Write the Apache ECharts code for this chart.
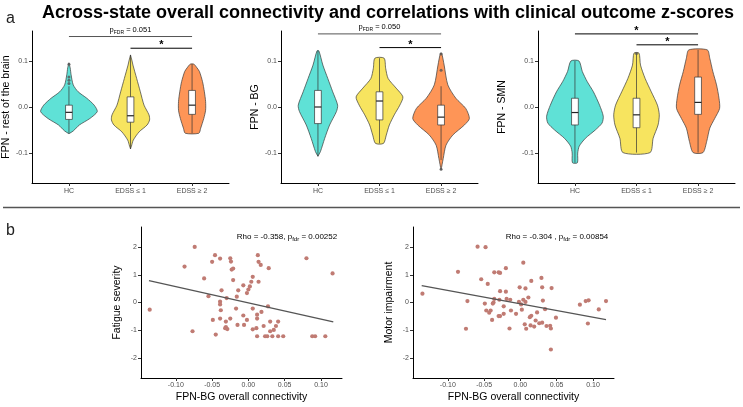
<!DOCTYPE html>
<html><head><meta charset="utf-8">
<script src="https://cdn.jsdelivr.net/npm/echarts@6/dist/echarts.min.js"></script>
<style>html,body{margin:0;padding:0;background:#fff}#c{width:743px;height:407px}</style>
</head><body><div id="c"></div>
<script>
// ---------- DATA ----------
const groups = ['HC', 'EDSS ≤ 1', 'EDSS ≥ 2'];
const groupColors = ['#5FE1D6', '#F7E45F', '#FE9557'];
const violinTicks = [-0.1, 0, 0.1];
const scatterXTicks = [-0.1, -0.05, 0, 0.05, 0.1];
const scatterYTicks = [-2, -1, 0, 1, 2];

const violinTitles = ['FPN - rest of the brain', 'FPN - BG', 'FPN - SMN'];

// violin density outlines: [value, half-width (group units)], top to bottom
const restHC   = [[0.096,0],[0.085,0.02],[0.07,0.035],[0.048,0.07],[0.033,0.15],[0.019,0.29],[0.004,0.41],[-0.01,0.46],[-0.025,0.34],[-0.039,0.17],[-0.052,0.07],[-0.058,0]];
const restLow  = [[0.113,0],[0.1,0.025],[0.091,0.04],[0.062,0.1],[0.033,0.16],[0.004,0.22],[-0.017,0.3],[-0.028,0.31],[-0.039,0.27],[-0.054,0.14],[-0.072,0.045],[-0.085,0.015],[-0.091,0]];
const restHigh = [[0.093,0.03],[0.085,0.08],[0.077,0.12],[0.055,0.17],[0.033,0.2],[0.012,0.22],[-0.007,0.22],[-0.025,0.19],[-0.046,0.14],[-0.057,0.11]];

const bgHC   = [[0.122,0.015],[0.091,0.08],[0.062,0.16],[0.033,0.24],[0.004,0.32],[-0.01,0.3],[-0.039,0.19],[-0.068,0.11],[-0.097,0.04],[-0.107,0]];
const bgLow  = [[0.106,0.075],[0.084,0.1],[0.062,0.14],[0.041,0.27],[0.022,0.38],[0.004,0.33],[-0.017,0.24],[-0.039,0.16],[-0.061,0.11],[-0.079,0.065]];
const bgHigh = [[0.117,0.01],[0.091,0.05],[0.048,0.11],[0.019,0.24],[-0.003,0.4],[-0.025,0.46],[-0.039,0.38],[-0.061,0.19],[-0.083,0.08],[-0.112,0.035],[-0.137,0]];

const smnHC   = [[0.1,0.065],[0.077,0.12],[0.055,0.2],[0.033,0.3],[0.004,0.4],[-0.02,0.46],[-0.035,0.44],[-0.05,0.33],[-0.068,0.17],[-0.085,0.07],[-0.1,0.045],[-0.121,0.04]];
const smnLow  = [[0.117,0.04],[0.091,0.065],[0.062,0.14],[0.033,0.24],[0.004,0.34],[-0.017,0.37],[-0.039,0.35],[-0.068,0.27],[-0.099,0.22]];
const smnHigh = [[0.124,0.15],[0.106,0.19],[0.077,0.24],[0.048,0.3],[0.019,0.34],[-0.003,0.35],[-0.025,0.27],[-0.046,0.19],[-0.075,0.14],[-0.099,0.08]];

// box stats per group: [lower whisker, q1, median, q3, upper whisker]
const restBox = [[-0.057,-0.027,-0.0116,0.004,0.045],[-0.091,-0.033,-0.019,0.022,0.113],[-0.057,-0.016,0.004,0.036,0.093]];
const bgBox   = [[-0.107,-0.036,0.0,0.036,0.122],[-0.079,-0.028,0.013,0.033,0.106],[-0.115,-0.039,-0.022,0.004,0.045]];
const smnBox  = [[-0.121,-0.039,-0.012,0.019,0.1],[-0.099,-0.045,-0.017,0.019,0.117],[-0.099,-0.016,0.01,0.065,0.124]];

// outliers: [group position, value]
const restOut = [[1,0.093],[1,0.065],[1,0.058],[1,0.051]];
const bgOut   = [[3,0.115],[3,0.08],[3,-0.135]];
const smnOut  = [[2,0.116]];

// significance brackets: [from, to, value]
const restBrackets = [[1,3,0.153],[2,3,0.1276]];
const bgBrackets   = [[1,3,0.1587],[2,3,0.129]];
const smnBrackets  = [[1,3,0.1587],[2,3,0.135]];
const restLabels = ['pFDR = 0.051', '*'];
const bgLabels   = ['pFDR = 0.050', '*'];
const smnLabels  = ['*', '*'];

// scatter: FPN-BG connectivity vs z-scores
const fatiguePts = [[-0.074,2.01],[-0.088,1.30],[-0.046,1.71],[-0.050,1.47],[-0.039,1.59],[-0.025,1.60],[-0.024,1.48],[-0.023,1.19],[-0.021,1.23],[-0.061,0.87],[-0.021,0.81],[0.013,1.71],[0.014,1.47],[0.017,1.36],[0.028,1.24],[0.080,1.60],[0.116,1.05],[-0.136,-0.26],[0.006,0.93],[0.014,0.75],[-0.007,0.62],[0.004,0.75],[0.002,0.58],[0.000,0.47],[-0.002,0.34],[-0.014,0.44],[-0.016,0.21],[-0.037,0.44],[-0.055,0.23],[-0.030,0.16],[-0.039,0.03],[-0.039,-0.07],[-0.038,-0.28],[-0.017,-0.22],[0.006,-0.22],[0.027,-0.14],[0.018,-0.34],[0.012,-0.44],[0.012,-0.58],[-0.007,-0.47],[-0.025,-0.58],[-0.039,-0.58],[-0.049,-0.63],[-0.031,-0.69],[-0.002,-0.63],[-0.015,-0.81],[-0.006,-0.81],[-0.031,-0.89],[-0.029,-0.96],[-0.032,-0.93],[0.006,-0.97],[0.011,-0.93],[0.021,-0.85],[0.030,-0.69],[0.041,-0.69],[0.038,-0.85],[0.035,-0.99],[0.030,-1.04],[-0.077,-1.04],[-0.045,-1.16],[0.012,-1.22],[0.023,-1.22],[0.026,-1.22],[0.033,-1.22],[0.041,-1.22],[0.048,-1.22],[0.088,-1.22],[0.092,-1.22],[0.106,-1.22]];
const motorPts = [[-0.135,0.32],[-0.086,1.11],[-0.059,2.02],[-0.048,2.0],[-0.073,0.05],[-0.075,-0.95],[-0.054,0.84],[-0.045,0.67],[-0.036,1.09],[-0.030,1.09],[-0.028,1.07],[-0.020,1.24],[0.004,1.44],[-0.049,-0.04],[-0.038,-0.04],[-0.037,0.0],[-0.028,0.41],[-0.020,0.39],[-0.036,0.13],[-0.029,0.10],[-0.019,0.13],[-0.014,0.10],[-0.023,-0.14],[-0.047,-0.29],[-0.041,-0.29],[-0.043,-0.37],[-0.039,-0.63],[-0.030,-0.49],[-0.028,-0.49],[-0.023,-0.41],[-0.013,-0.29],[-0.015,-0.94],[-0.001,0.55],[0.007,0.51],[0.015,0.78],[0.029,0.89],[0.030,0.55],[0.043,0.52],[0.011,0.18],[0.004,0.10],[0.007,0.02],[-0.002,0.02],[0.001,-0.07],[0.031,0.07],[0.002,-0.26],[-0.006,-0.41],[0.015,-0.48],[0.023,-0.36],[0.034,-0.24],[0.013,-0.53],[0.021,-0.65],[0.026,-0.75],[0.030,-0.73],[0.036,-0.85],[0.041,-0.84],[0.042,-0.94],[0.049,-0.55],[0.006,-0.79],[0.008,-0.95],[0.014,-0.83],[0.019,-0.87],[0.042,-1.70],[0.082,-0.08],[0.090,0.05],[0.094,0.08],[0.108,-0.25],[0.093,-0.76],[0.118,0.05]];
const fitFatigue = [[-0.137,0.79],[0.117,-0.70]];
const fitMotor   = [[-0.136,0.61],[0.118,-0.62]];
const scatterYTitles = ['Fatigue severity', 'Motor impairment'];
const scatterXTitle = 'FPN-BG overall connectivity';
const corrTexts = [['-0.358,', '0.00252'], ['-0.304 ,', '0.00854']];

// ---------- CHART ----------
const FONT = "'Liberation Sans', Arial, Helvetica, sans-serif";
const panels = [
  {profiles:[restHC,restLow,restHigh], box:restBox, out:restOut, br:restBrackets, lab:restLabels},
  {profiles:[bgHC,bgLow,bgHigh], box:bgBox, out:bgOut, br:bgBrackets, lab:bgLabels},
  {profiles:[smnHC,smnLow,smnHigh], box:smnBox, out:smnOut, br:smnBrackets, lab:smnLabels}
];
const vLeft = [32, 281, 538];
const vNameGap = [18, 18, 30.5];

const grids = [], xAxis = [], yAxis = [], series = [];
const axisLineStyle = {color:'#000', width:1};
const tickStyle = {color:'#333', width:1};
const labStyle = {fontSize:7, color:'#4D4D4D', fontFamily:FONT};

panels.forEach((p, k) => {
  grids.push({left:vLeft[k], top:31, width:197, height:152, outerBoundsMode:'none'});
  xAxis.push({gridIndex:k, type:'value', min:0.4, max:3.6,
    axisLine:{show:true, onZero:false, lineStyle:axisLineStyle},
    axisTick:{show:true, customValues:[1,2,3], length:3, lineStyle:tickStyle},
    axisLabel:Object.assign({customValues:[1,2,3], margin:5, formatter:v=>groups[Math.round(v)-1]}, labStyle),
    splitLine:{show:false}});
  yAxis.push({gridIndex:k, type:'value', min:-0.165, max:0.165,
    name:violinTitles[k], nameLocation:'middle', nameGap:vNameGap[k],
    nameTextStyle:{fontSize:10.5, color:'#000', fontFamily:FONT},
    axisLine:{show:true, onZero:false, lineStyle:axisLineStyle},
    axisTick:{show:true, customValues:violinTicks, length:3, lineStyle:tickStyle},
    axisLabel:Object.assign({customValues:violinTicks, margin:4, formatter:v=>v.toFixed(1)}, labStyle),
    splitLine:{show:false}});
  // violins
  series.push({type:'custom', xAxisIndex:k, yAxisIndex:k, silent:true,
    data: groups.map((g,i)=>[i+1]),
    renderItem:(params, api) => {
      const pos = api.value(0); const prof = p.profiles[pos-1];
      const right = prof.map(([v,w]) => api.coord([pos+w, v]));
      const left = prof.slice().reverse().map(([v,w]) => api.coord([pos-w, v]));
      return {type:'polygon', shape:{points:right.concat(left), smooth:0.25},
        style:{fill:groupColors[pos-1], stroke:'#3a3a3a', lineWidth:0.7}};
    }});
  // boxes
  series.push({type:'custom', xAxisIndex:k, yAxisIndex:k, silent:true, z:3,
    data: p.box.map((b,i)=>[i+1].concat(b)),
    renderItem:(params, api) => {
      const x = api.value(0), hw = 0.055;
      const lo = api.coord([x, api.value(1)]), q1 = api.coord([x, api.value(2)]),
            md = api.coord([x, api.value(3)]), q3 = api.coord([x, api.value(4)]),
            hi = api.coord([x, api.value(5)]);
      const l = api.coord([x-hw, 0])[0], r = api.coord([x+hw, 0])[0];
      const ls = {stroke:'#333', lineWidth:0.7};
      return {type:'group', children:[
        {type:'line', shape:{x1:lo[0], y1:lo[1], x2:hi[0], y2:hi[1]}, style:ls},
        {type:'rect', shape:{x:l, y:q3[1], width:r-l, height:q1[1]-q3[1]}, style:{fill:'#fff', stroke:'#333', lineWidth:0.7}},
        {type:'line', shape:{x1:l, y1:md[1], x2:r, y2:md[1]}, style:{stroke:'#222', lineWidth:1.2}}
      ]};
    }});
  // outliers
  series.push({type:'scatter', xAxisIndex:k, yAxisIndex:k, silent:true, z:4,
    data:p.out, symbolSize:3, itemStyle:{color:'#555'}});
  // brackets
  series.push({type:'custom', xAxisIndex:k, yAxisIndex:k, silent:true, z:5,
    data:p.br,
    renderItem:(params, api) => {
      const a = api.coord([api.value(0), api.value(2)]), b = api.coord([api.value(1), api.value(2)]);
      const lab = p.lab[params.dataIndex];
      const mid = (a[0]+b[0])/2;
      const isStar = lab === '*';
      const txt = isStar ? {type:'text', x:mid, y:a[1]+2.5, style:{text:'*', fontSize:11, fontWeight:'bold', fontFamily:FONT, fill:'#000', align:'center', verticalAlign:'bottom'}}
        : {type:'text', x:mid, y:a[1]-1.5, style:{text:'{p|p}{s|FDR}{p|' + lab.slice(4) + '}', align:'center', verticalAlign:'bottom', fontFamily:FONT,
            rich:{p:{fontSize:7.5, fill:'#000', fontFamily:FONT, padding:[0,0,1.5,0], verticalAlign:'bottom'}, s:{fontSize:5, fill:'#000', fontFamily:FONT, verticalAlign:'bottom'}}}};
      return {type:'group', children:[
        {type:'line', shape:{x1:a[0], y1:a[1], x2:b[0], y2:b[1]}, style:{stroke:isStar || k===2 ? '#000' : '#555', lineWidth:1}},
        txt]};
    }});
});

const sLeft = [141, 413];
[fatiguePts, motorPts].forEach((pts, j) => {
  const k = 3 + j;
  grids.push({left:sLeft[j], top:227, width:201, height:151, outerBoundsMode:'none'});
  xAxis.push({gridIndex:k, type:'value', min:-0.148, max:0.129,
    name:scatterXTitle, nameLocation:'middle', nameGap:14,
    nameTextStyle:{fontSize:10.5, color:'#000', fontFamily:FONT, verticalAlign:'top'},
    axisLine:{show:true, onZero:false, lineStyle:axisLineStyle},
    axisTick:{show:true, customValues:scatterXTicks, length:3, lineStyle:tickStyle},
    axisLabel:Object.assign({customValues:scatterXTicks, margin:4, formatter:v=>v.toFixed(2)}, labStyle),
    splitLine:{show:false}});
  yAxis.push({gridIndex:k, type:'value', min:-2.73, max:2.73,
    name:scatterYTitles[j], nameLocation:'middle', nameGap:18,
    nameTextStyle:{fontSize:10.5, color:'#000', fontFamily:FONT},
    axisLine:{show:true, onZero:false, lineStyle:axisLineStyle},
    axisTick:{show:true, customValues:scatterYTicks, length:3, lineStyle:tickStyle},
    axisLabel:Object.assign({customValues:scatterYTicks, margin:4, formatter:v=>String(v)}, labStyle),
    splitLine:{show:false}});
  series.push({type:'scatter', xAxisIndex:k, yAxisIndex:k, silent:true, data:pts,
    symbolSize:4.2, itemStyle:{color:'#C07B73', opacity:1}});
  series.push({type:'line', xAxisIndex:k, yAxisIndex:k, silent:true, data: j===0 ? fitFatigue : fitMotor,
    symbol:'none', lineStyle:{color:'#555', width:1.3}, z:3});
});

const corrGraphic = corrTexts.map((t, j) => ({
  type:'text', x:[287, 557][j], y:242.5, z:10,
  style:{text:'{m|Rho = ' + t[0] + ' p}{s|fdr}{m| = ' + t[1] + '}', align:'center', verticalAlign:'bottom', fontFamily:FONT,
    rich:{m:{fontSize:8, fill:'#000', fontFamily:FONT, padding:[0,0,1.5,0], verticalAlign:'bottom'}, s:{fontSize:6, fill:'#000', fontFamily:FONT, verticalAlign:'bottom'}}}
}));

const chart = echarts.init(document.getElementById('c'), null, {renderer:'canvas'});
chart.setOption({
  animation:false,
  backgroundColor:'#fff',
  grid:grids, xAxis:xAxis, yAxis:yAxis, series:series,
  graphic:[
    {type:'text', x:388, y:21.8, style:{text:'Across-state overall connectivity and correlations with clinical outcome z-scores', fontSize:18, fontWeight:'bold', fontFamily:FONT, fill:'#000', align:'center', verticalAlign:'bottom'}},
    {type:'text', x:6, y:26.5, style:{text:'a', fontSize:16, fontFamily:FONT, fill:'#222', verticalAlign:'bottom'}},
    {type:'text', x:6, y:238.5, style:{text:'b', fontSize:16, fontFamily:FONT, fill:'#222', verticalAlign:'bottom'}},
    {type:'line', shape:{x1:3, y1:207.5, x2:740, y2:207.5}, style:{stroke:'#555', lineWidth:1.3}}
  ].concat(corrGraphic)
});
</script></body></html>
